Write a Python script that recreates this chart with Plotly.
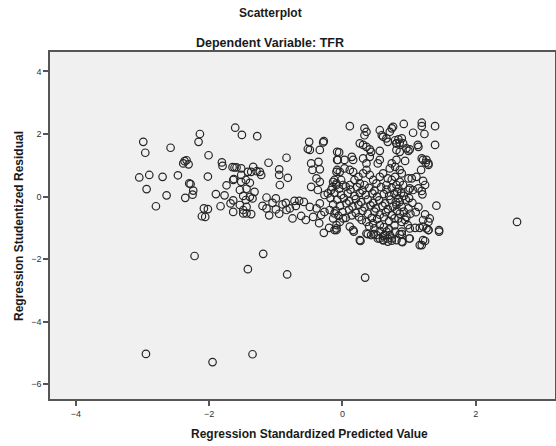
import plotly.graph_objects as go

# Regression Standardized Predicted Value (x) and Studentized Residual (y)
pred = [
    # left group
    -2.99, -2.96, -2.58, -2.14, -2.16, -2.01, -1.61, -2.37, -2.34, -2.31, -1.81, -1.80, -1.65, -1.62,
    -3.05, -2.90, -2.70, -2.47, -2.02, -2.30, -2.28, -2.94, -2.24, -2.25, -2.64, -2.36, -2.80,
    -1.90, -1.77, -1.74, -1.64, -1.83, -2.08, -2.02, -2.11, -2.06, -1.68, -1.64, -1.64,
    -1.51, -2.39, -1.59, -1.52, -1.63, -1.52, -1.52, -1.45, -1.54, -1.44, -1.49, -1.45,
    -1.54, -1.49, -1.44, -1.42,
    # middle-left group
    -1.28, -0.84, -0.50, -0.28, -0.29, -0.49, -0.52, -0.34, -0.08, -0.47, -0.36, -0.34, -0.45,
    -0.08, -0.08, -1.11, -0.95, -1.34, -1.37, -1.29, -1.24, -1.22, -0.95, -0.82, -1.39, -0.94,
    -1.32, -1.39, -1.35, -0.47, -0.39, -0.34, -0.37, -0.27, -0.22, -0.17, -0.09, -1.14, -1.00,
    -0.85, -0.72, -0.65, -0.58, -0.84, -0.79, -1.14, -1.00, -1.44, -1.49, -1.37, -0.49, -0.39,
    -0.34, -0.27, -0.19, -0.12, -0.44, -0.32, -0.55, -0.35, -0.20, -0.75, -0.95, -1.10, -0.62,
    -0.70, -0.90, -1.05, -1.20,
    # upper right group
    0.11, 0.33, 0.36, 0.33, 0.56, 0.61, 0.59, 0.74, 0.76, 0.71, 0.79, 0.81, 0.68, 0.66, 0.26,
    0.31, 0.36, 0.41, 0.43, 0.56, -0.05, -0.07, 0.14, 0.16, 0.03, 0.31, 0.36, 0.41, 0.56, 0.53,
    0.74, 0.79, 0.71, -0.09, -0.04, 0.03, 0.11, 0.16, -0.12, -0.02, -0.14, 0.18, 0.24, 0.31,
    0.36, 0.41, 0.46, 0.56, 0.61, 0.68, 0.74, 0.79, -0.09, 0.01, 0.11, 0.26, 0.33, 0.51, 0.66,
    0.81,
    0.92, 1.19, 1.19, 1.39, 1.06, 1.23, 0.84, 0.89, 0.91, 0.86, 0.81, 0.96, 0.99, 1.01, 1.13,
    1.14, 1.39, 0.81, 0.86, 0.81, 0.94, 1.19, 1.21, 1.26, 1.29, 1.29, 1.25, 0.86, 0.89, 1.18,
    0.99, 1.04, 1.11, 1.21, 1.24, 0.86, 0.91, 1.01, 1.14,
    # lower right group
    0.99, 1.06, 1.19, 1.20, 0.84, 0.86, 0.81, 0.89, 0.99, 1.14, 1.41, 1.24, 1.21, 1.29, 1.31,
    0.84, 0.89, 0.94, 0.96, 0.98, 1.01, 1.09, 1.16, 1.21, 1.26, 1.29, 1.45, 0.86, 0.89, 1.01,
    0.81, 0.89, 1.21, 1.16,
    -0.09, -0.12, -0.09, 0.11, 0.16, 0.26, 0.36, 0.43, 0.51, 0.56, 0.61, 0.68, 0.74, 0.64,
    0.71, 0.79, 0.29, 0.36, 0.46, 0.56, 0.01, -0.04, -0.14,
    -0.28, -0.09, 0.17, 0.27, 0.38, 0.47, 0.53, 0.61, 0.61, 0.68, 0.74, 0.89, 0.90, 1.00,
    1.19, 1.24, 1.29, 1.45,
    # dense band
    -0.15, -0.05, 0.05, 0.12, 0.22, 0.30, 0.40, 0.48, 0.58, 0.66, 0.74, 0.82,
    -0.12, -0.02, 0.08, 0.18, 0.26, 0.35, 0.45, 0.52, 0.62, 0.70, 0.78,
    -0.18, -0.08, 0.02, 0.10, 0.20, 0.28, 0.38, 0.46, 0.55, 0.64, 0.72, 0.80,
    -0.14, -0.04, 0.06, 0.15, 0.24, 0.33, 0.42, 0.50, 0.60, 0.68, 0.76,
    -0.10, 0.00, 0.10, 0.20, 0.30, 0.38, 0.48, 0.56, 0.65, 0.74, 0.82,
    -0.06, 0.05, 0.14, 0.25, 0.44, 0.52, 0.62, 0.70, 0.78,
    0.40, 0.48, 0.62, 0.70, 0.78, 0.66, 0.56,
    0.84, 0.88, 0.92, 0.95, 1.00, 1.05, 0.92, 1.02, 0.86, 1.10,
    # outliers
    -2.95, -1.95, -1.35, -2.22, -1.19, -1.42, -0.83, 0.34, 2.62,
]

resid = [
    # left group
    1.75, 1.40, 1.56, 2.00, 1.75, 1.32, 2.20, 1.13, 1.16, 1.03, 1.09, 0.98, 0.94, 0.93,
    0.61, 0.69, 0.63, 0.68, 0.64, 0.42, 0.40, 0.24, 0.19, 0.06, 0.04, -0.04, -0.31,
    0.08, 0.04, 0.36, 0.53, -0.31, -0.38, -0.40, -0.63, -0.65, -0.22, -0.12, -0.49,
    1.97, 1.06, 0.93, 0.90, 0.56, 0.47, 0.69, 0.53, 0.21, 0.25, 0.02, -0.11,
    -0.27, -0.43, -0.54, 0.79,
    # middle-left group
    1.93, 1.24, 1.75, 1.77, 1.73, 1.49, 1.52, 1.49, 1.43, 1.06, 1.11, 0.87, 0.85,
    1.17, 0.85, 1.08, 0.87, 0.95, 0.79, 0.81, 0.79, 0.69, 0.69, 0.60, 0.44, 0.37,
    0.15, -0.01, -0.06, 0.31, 0.58, 0.47, 0.21, 0.05, 0.10, 0.21, 0.42, -0.03, -0.06,
    -0.20, -0.14, -0.14, -0.17, -0.43, -0.38, -0.38, -0.41, -0.33, -0.54, -0.56, -0.33, -0.38,
    -0.22, -0.49, -0.43, -0.54, -0.65, -0.59, -0.75, -0.85, -1.00, -0.70, -0.55, -0.60, -0.62,
    -0.30, -0.25, -0.20, -0.30,
    # upper right group
    2.25, 2.18, 2.07, 1.96, 2.12, 1.91, 1.96, 2.18, 2.23, 2.07, 1.80, 1.70, 1.75, 1.86, 1.70,
    1.65, 1.59, 1.51, 1.43, 1.46, 1.41, 1.17, 1.27, 1.17, 1.17, 1.22, 1.06, 1.27, 1.17, 1.06,
    1.06, 0.95, 0.90, 0.79, 0.79, 0.90, 0.85, 0.79, 0.53, 0.53, 0.47, 0.53, 0.63, 0.74,
    0.85, 0.69, 0.53, 0.63, 0.74, 0.58, 0.53, 0.63, 0.37, 0.37, 0.37, 0.42, 0.37, 0.42, 0.37,
    0.37,
    2.32, 2.36, 2.25, 2.25, 2.04, 2.00, 1.83, 1.86, 1.70, 1.72, 1.70, 1.54, 1.46, 1.51, 1.65,
    1.59, 1.65, 1.49, 1.43, 1.17, 1.14, 1.22, 1.17, 1.17, 1.06, 1.01, 1.08, 0.85, 0.74, 0.85,
    0.58, 0.58, 0.63, 0.50, 0.37, 0.47, 0.37, 0.26, 0.26,
    # lower right group
    0.21, 0.21, 0.18, 0.07, -0.06, -0.17, -0.27, -0.33, -0.38, -0.33, -0.29, -0.57, -0.75, -0.81, -0.70,
    -0.70, -0.81, -0.75, -0.65, -0.91, -1.02, -1.00, -1.00, -0.96, -1.02, -1.07, -1.07, -1.21, -1.12, -1.34,
    -1.39, -1.44, -1.39, -1.55,
    -0.91, -1.07, -1.02, -0.96, -1.07, -1.39, -1.18, -1.23, -1.23, -1.34, -1.39, -1.44, -1.34, -1.23,
    -1.23, -1.12, -0.75, -0.81, -0.86, -0.91, -0.70, -0.81, -0.70,
    -1.16, -1.07, -1.12, -1.42, -1.20, -1.20, -1.34, -1.26, -1.39, -1.34, -1.41, -1.20, -1.46, -1.34,
    -1.55, -1.42, -1.07, -1.12,
    # dense band
    0.30, 0.25, 0.32, 0.22, 0.30, 0.20, 0.28, 0.18, 0.30, 0.22, 0.28, 0.15,
    0.12, 0.05, 0.10, 0.02, 0.12, 0.05, 0.10, 0.00, 0.08, 0.02, 0.10,
    -0.05, -0.10, -0.05, -0.15, -0.08, -0.18, -0.10, -0.20, -0.12, -0.22, -0.10, -0.18,
    -0.25, -0.30, -0.22, -0.32, -0.26, -0.35, -0.28, -0.38, -0.30, -0.40, -0.32,
    -0.45, -0.50, -0.42, -0.52, -0.46, -0.55, -0.48, -0.58, -0.50, -0.60, -0.45,
    -0.62, -0.68, -0.60, -0.66, -0.68, -0.72, -0.66, -0.78, -0.70,
    -0.95, -1.02, -0.98, -1.05, -0.92, -1.12, -1.10,
    0.25, 0.12, 0.02, -0.10, -0.05, -0.20, -0.48, -0.55, -0.55, -0.50,
    # outliers
    -5.03, -5.29, -5.04, -1.90, -1.83, -2.32, -2.49, -2.59, -0.81,
]

x_ticks = [-4, -2, 0, 2]
y_ticks = [-6, -4, -2, 0, 2, 4]

fig = go.Figure(go.Scatter(
    x=pred, y=resid, mode="markers",
    marker=dict(symbol="circle-open", size=7.5, color="#262626", line=dict(width=1.2)),
    hoverinfo="x+y",
))

font = "Liberation Sans, Arial, sans-serif"
axis_common = dict(
    showgrid=False, zeroline=False, showline=True, linecolor="#555555", linewidth=1.5,
    mirror=True, ticks="outside", ticklen=5, tickwidth=1.5, tickcolor="#555555",
    tickfont=dict(family=font, size=9, color="#333333"), automargin=False,
)

L, R, T, B = 50, 1, 52, 47
W, H = 556, 446
pw, ph = W - L - R, H - T - B

def px_x(p):
    return (p - L) / pw

def px_y(p):
    return (H - B - p) / ph

fig.update_layout(
    width=W, height=H,
    margin=dict(l=L, r=R, t=T, b=B, autoexpand=False),
    paper_bgcolor="white", plot_bgcolor="#F0F0F0",
    showlegend=False,
    xaxis=dict(range=[-4.39, 3.19], tickvals=x_ticks, **axis_common),
    yaxis=dict(range=[-6.47, 4.62], tickvals=y_ticks, **axis_common),
    annotations=[
        dict(text="<b>Scatterplot</b>", x=px_x(270), y=px_y(13), xref="paper", yref="paper",
             xanchor="center", yanchor="middle", showarrow=False,
             font=dict(family=font, size=12, color="#1a1a1a")),
        dict(text="<b>Dependent Variable: TFR</b>", x=px_x(270), y=px_y(43), xref="paper",
             yref="paper", xanchor="center", yanchor="middle", showarrow=False,
             font=dict(family=font, size=12.5, color="#1a1a1a")),
        dict(text="<b>Regression Standardized Predicted Value</b>", x=px_x(309), y=px_y(434),
             xref="paper", yref="paper", xanchor="center", yanchor="middle", showarrow=False,
             font=dict(family=font, size=12, color="#1a1a1a")),
        dict(text="<b>Regression Studentized Residual</b>", x=px_x(19), y=px_y(226),
             xref="paper", yref="paper", xanchor="center", yanchor="middle", showarrow=False,
             textangle=-90, font=dict(family=font, size=12, color="#1a1a1a")),
    ],
)

fig.write_html(
    "out.html",
    config={"displayModeBar": False},
    post_script="document.body.style.margin='0';document.body.style.overflow='hidden';",
)
